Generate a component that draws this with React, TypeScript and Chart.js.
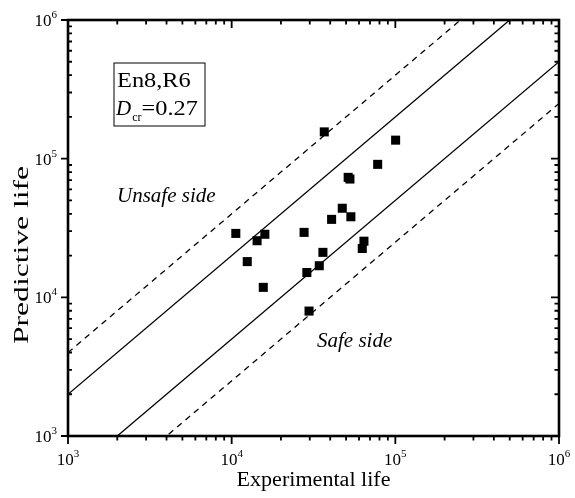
import { useEffect, useRef } from 'react';
import { Chart, registerables } from 'chart.js';

Chart.register(...registerables);

// ---- data ----
const experimentalLife = [36800, 100400, 78000, 51500, 52800, 47400, 53500, 40800, 10600, 15950, 14300, 27700, 64300, 62800, 36100, 12450, 34300, 28800, 15600, 29700];
const predictiveLife = [156000, 136000, 91000, 73300, 71300, 43900, 38100, 36500, 28900, 28500, 25600, 29400, 25400, 22500, 21100, 18100, 16900, 15100, 11800, 7960];
const solidFactors = [2, 0.5];
const dashedFactors = [4, 0.25];
const axisMin = 1e3;
const axisMax = 1e6;
const decadeExponents = [3, 4, 5, 6];
const xTitle = 'Experimental life';
const yTitle = 'Predictive life';
const boxLine1 = 'En8,R6';
const boxSymbol = 'D';
const boxSub = 'cr';
const boxValue = '=0.27';
const unsafeLabel = 'Unsafe side';
const safeLabel = 'Safe side';

const FONT = '"Liberation Serif", "Times New Roman", serif';

function stretchedText(ctx: CanvasRenderingContext2D, text: string, x: number, y: number, sx: number, rot = 0) {
  ctx.save();
  ctx.translate(x, y);
  ctx.rotate(rot);
  ctx.scale(sx, 1);
  ctx.fillText(text, 0, 0);
  ctx.restore();
}

function powLabel(ctx: CanvasRenderingContext2D, exp: number, x: number, yMid: number, align: 'center' | 'right') {
  ctx.save();
  ctx.textBaseline = 'alphabetic';
  ctx.textAlign = 'left';
  ctx.font = `17px ${FONT}`;
  const wBase = ctx.measureText('10').width;
  ctx.font = `11px ${FONT}`;
  const wExp = ctx.measureText(String(exp)).width;
  const total = wBase + wExp;
  const x0 = align === 'center' ? x - total / 2 : x - total;
  const base = yMid + 6;
  ctx.font = `17px ${FONT}`;
  ctx.fillText('10', x0, base);
  ctx.font = `11px ${FONT}`;
  ctx.fillText(String(exp), x0 + wBase, base - 8);
  ctx.restore();
}

const decorPlugin = {
  id: 'decor',
  afterDatasetsDraw(chart: any) {
    const ctx: CanvasRenderingContext2D = chart.ctx;
    const { left, right, top, bottom } = chart.chartArea;
    const xs = chart.scales.x;
    const ys = chart.scales.y;
    ctx.save();
    ctx.strokeStyle = '#000';
    ctx.fillStyle = '#000';
    // ticks
    ctx.lineWidth = 1.8;
    const lo = Math.log10(axisMin);
    const hi = Math.log10(axisMax);
    for (let e = lo; e <= hi; e++) {
      for (let m = 1; m <= 9; m++) {
        const v = m * Math.pow(10, e);
        if (v > axisMax) break;
        const major = m === 1;
        const px = xs.getPixelForValue(v);
        const py = ys.getPixelForValue(v);
        const L = major ? 8 : 4.5;
        ctx.beginPath();
        ctx.moveTo(px, bottom);
        ctx.lineTo(px, bottom + L);
        ctx.moveTo(px, top);
        ctx.lineTo(px, top + L);
        if (major) {
          ctx.moveTo(left - 7, py);
          ctx.lineTo(left, py);
        } else {
          ctx.moveTo(left, py);
          ctx.lineTo(left + 4, py);
        }
        ctx.moveTo(right, py);
        ctx.lineTo(right - L, py);
        ctx.stroke();
      }
    }
    // frame
    ctx.lineWidth = 2.6;
    ctx.strokeRect(left, top, right - left, bottom - top);

    // tick labels
    decadeExponents.forEach((e) => {
      const v = Math.pow(10, e);
      powLabel(ctx, e, xs.getPixelForValue(v), bottom + 23, 'center');
      powLabel(ctx, e, left - 11, ys.getPixelForValue(v), 'right');
    });

    // axis titles
    ctx.textAlign = 'center';
    ctx.textBaseline = 'alphabetic';
    ctx.font = `20px ${FONT}`;
    const xw = ctx.measureText(xTitle).width;
    stretchedText(ctx, xTitle, 313.5, bottom + 50, 154 / xw);
    ctx.font = `22px ${FONT}`;
    const yw = ctx.measureText(yTitle).width;
    stretchedText(ctx, yTitle, 28, 255, 178 / yw, -Math.PI / 2);

    // box
    ctx.lineWidth = 1;
    ctx.strokeRect(left + 46, top + 43, 91, 63);
    ctx.textAlign = 'left';
    ctx.font = `21px ${FONT}`;
    stretchedText(ctx, boxLine1, left + 49, top + 67, 1.16);
    ctx.font = `italic 21px ${FONT}`;
    ctx.fillText(boxSymbol, left + 48, top + 95);
    const dW = ctx.measureText(boxSymbol).width;
    ctx.font = `12px ${FONT}`;
    ctx.fillText(boxSub, left + 49 + dW, top + 101);
    const sW = ctx.measureText(boxSub).width;
    ctx.font = `21px ${FONT}`;
    stretchedText(ctx, boxValue, left + 49 + dW + sW, top + 95, 1.16);

    // side labels
    ctx.font = `italic 21px ${FONT}`;
    ctx.fillText(unsafeLabel, left + 49, top + 182);
    ctx.fillText(safeLabel, left + 249, top + 327);
    ctx.restore();
  },
};

export default function App() {
  const ref = useRef<HTMLCanvasElement>(null);
  useEffect(() => {
    if (!ref.current) return;
    const lineData = (f: number) => [
      { x: axisMin, y: axisMin * f },
      { x: axisMax, y: axisMax * f },
    ];
    const datasets: any[] = [
      ...solidFactors.map((f) => ({
        type: 'line',
        data: lineData(f),
        borderColor: '#000',
        borderWidth: 1.3,
        pointRadius: 0,
        fill: false,
      })),
      ...dashedFactors.map((f) => ({
        type: 'line',
        data: lineData(f),
        borderColor: '#000',
        borderWidth: 1.3,
        borderDash: [6, 5],
        pointRadius: 0,
        fill: false,
      })),
      {
        type: 'scatter',
        data: experimentalLife.map((x, i) => ({ x, y: predictiveLife[i] })),
        pointStyle: 'rect',
        pointRadius: 6.4,
        backgroundColor: '#000',
        borderWidth: 0,
      },
    ];
    const chart = new Chart(ref.current, {
      type: 'scatter',
      data: { datasets },
      options: {
        animation: false,
        responsive: false,
        layout: { padding: { left: 68, right: 16, top: 20, bottom: 62 } },
        plugins: { legend: { display: false }, tooltip: { enabled: false } },
        scales: {
          x: { type: 'logarithmic', min: axisMin, max: axisMax, display: false },
          y: { type: 'logarithmic', min: axisMin, max: axisMax, display: false },
        },
      },
      plugins: [decorPlugin],
    } as any);
    return () => chart.destroy();
  }, []);
  return (
    <div style={{ position: 'absolute', left: 0, top: 0, width: 575, height: 498, background: '#fff' }}>
      <canvas ref={ref} width={575} height={498} />
    </div>
  );
}
